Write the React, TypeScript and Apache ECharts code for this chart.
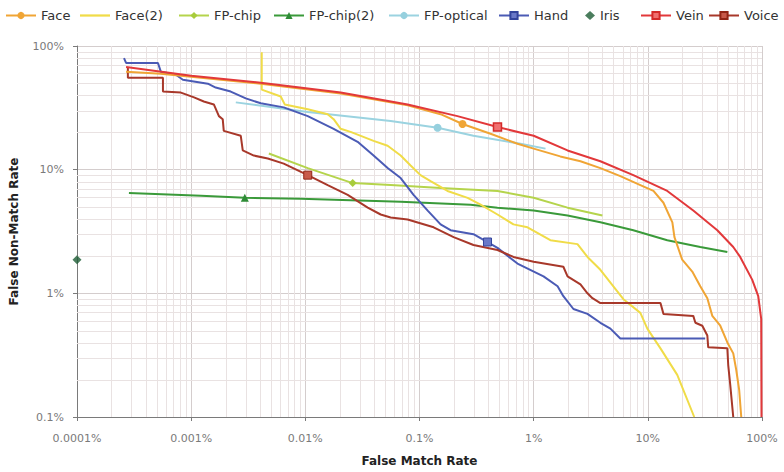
import React, { useEffect, useRef } from 'react';
import * as echarts from 'echarts';

type P = [number, number];

// False Match Rate (%) , False Non-Match Rate (%)
const face: P[] = [
  [0.000269, 61.8], [0.000543, 59.6], [0.00407, 49.6], [0.0204, 41.3], [0.0787, 33.1],
  [0.153, 28.1], [0.238, 23.4], [0.419, 19.5], [0.721, 16.2], [1.0, 14.8], [1.71, 12.8],
  [2.57, 11.7], [3.84, 10.3], [5.74, 8.86], [8.6, 7.51], [11.2, 6.73], [13.7, 5.4],
  [16.4, 3.75], [17.1, 2.85], [20.0, 1.87], [24.5, 1.5], [28.8, 1.14], [33.2, 0.914],
  [36.7, 0.657], [43.1, 0.547], [49.7, 0.401], [56.0, 0.327], [59.5, 0.24], [63.1, 0.166],
  [65.8, 0.1],
];
const faceMarker = 6;

const face2: P[] = [
  [0.00415, 89.1], [0.00415, 44.4], [0.00609, 39.1], [0.0066, 33.7], [0.0105, 30.8],
  [0.0157, 28.1], [0.0177, 25.6], [0.0204, 21.4], [0.0249, 20.2], [0.0396, 17.1],
  [0.0526, 15.6], [0.0684, 13.0], [0.0836, 10.8], [0.102, 9.03], [0.125, 8.08],
  [0.176, 6.73], [0.264, 5.92], [0.343, 5.21], [0.482, 4.34], [0.665, 3.61], [0.883, 3.42],
  [1.4, 2.69], [2.42, 2.5], [2.96, 1.97], [3.84, 1.55], [4.99, 1.14], [6.11, 0.897],
  [8.6, 0.695], [9.9, 0.518], [12.9, 0.359], [18.1, 0.219], [25.5, 0.1],
];

const fpChip: P[] = [
  [0.00479, 13.5], [0.0105, 10.3], [0.026, 7.79], [0.0559, 7.51], [0.153, 7.11],
  [0.482, 6.73], [1.0, 5.92], [1.98, 4.93], [4.0, 4.26],
];
const fpChipMarker = 2;

const fpChip2: P[] = [
  [0.000285, 6.49], [0.00122, 6.14], [0.00295, 5.92], [0.00912, 5.81], [0.0684, 5.5],
  [0.28, 5.21], [0.482, 4.93], [1.0, 4.67], [1.98, 4.26], [3.84, 3.75], [7.46, 3.24],
  [14.8, 2.69], [28.8, 2.37], [49.7, 2.16],
];
const fpChip2Marker = 2;

const fpOptical: P[] = [
  [0.00246, 35.0], [0.0105, 29.2], [0.0559, 24.7], [0.144, 21.8], [0.297, 18.8],
  [0.767, 16.2], [1.27, 14.8],
];
const fpOpticalMarker = 3;

const hand: P[] = [
  [0.000258, 79.8], [0.000269, 72.9], [0.000512, 72.9], [0.000543, 61.8], [0.000735, 58.5],
  [0.000846, 53.4], [0.0014, 49.6], [0.00164, 46.1], [0.00222, 42.8], [0.00301, 37.7],
  [0.00407, 34.4], [0.00647, 31.9], [0.0105, 27.1], [0.0177, 21.4], [0.0287, 16.8],
  [0.0396, 13.0], [0.0526, 10.3], [0.0684, 8.55], [0.0887, 6.26], [0.118, 4.67],
  [0.153, 3.61], [0.187, 3.24], [0.297, 3.01], [0.394, 2.6], [0.482, 2.33], [0.721, 1.74],
  [1.22, 1.37], [1.62, 1.14], [1.82, 0.948], [2.23, 0.747], [2.96, 0.682], [3.84, 0.578],
  [4.7, 0.518], [5.74, 0.431], [31.8, 0.431],
];
const handMarker = 23;

const iris: P[] = [[0.0001, 1.87]];

const vein: P[] = [
  [0.000269, 67.7], [0.001, 57.4], [0.00407, 50.5], [0.0204, 42.0], [0.0787, 33.7],
  [0.215, 27.1], [0.482, 22.1], [1.0, 18.8], [1.98, 14.3], [3.84, 11.7], [7.46, 9.03],
  [14.8, 6.73], [25.0, 4.67], [40.6, 3.24], [56.0, 2.37], [64.4, 1.97], [82.0, 1.29],
  [92.7, 0.948], [98.4, 0.622], [99.0, 0.1],
];
const veinMarker = 6;

const voice: P[] = [
  [0.000279, 66.5], [0.000279, 55.3], [0.000566, 55.3], [0.000566, 42.8], [0.000813, 42.0],
  [0.00106, 38.4], [0.00129, 35.6], [0.00158, 33.7], [0.00175, 27.1], [0.00189, 25.6],
  [0.00193, 20.6], [0.00272, 18.8], [0.00283, 14.3], [0.00354, 13.0], [0.00469, 12.3],
  [0.00647, 11.2], [0.0105, 9.03], [0.0157, 7.51], [0.0235, 6.26], [0.0352, 4.93],
  [0.0457, 4.34], [0.0559, 4.11], [0.0787, 3.96], [0.133, 3.42], [0.199, 2.85],
  [0.297, 2.46], [0.482, 2.24], [0.665, 1.97], [1.0, 1.8], [1.82, 1.64], [1.98, 1.37],
  [2.57, 1.18], [2.96, 1.0], [3.27, 0.914], [3.84, 0.834], [12.9, 0.834], [13.7, 0.682],
  [25.0, 0.657], [26.1, 0.578], [30.0, 0.547], [33.2, 0.456], [33.8, 0.366], [49.7, 0.359],
  [50.6, 0.263], [52.7, 0.182], [56.0, 0.1],
];
const voiceMarker = 16;

const xMin = 0.0001;
const xMax = 100;
const yMin = 0.1;
const yMax = 100;

const FONT = 'DejaVu Sans';

function pct(v: number): string {
  return `${+Number(v).toPrecision(6)}%`;
}

function minorValues(lo: number, hi: number): number[] {
  const out: number[] = [];
  for (let e = Math.round(Math.log10(lo)); e < Math.round(Math.log10(hi)); e++) {
    for (let m = 2; m <= 9; m++) out.push(+(m * Math.pow(10, e)).toPrecision(4));
  }
  return out;
}

export default function App() {
  const ref = useRef<HTMLDivElement>(null);

  useEffect(() => {
    if (!ref.current) return;
    const chart = echarts.init(ref.current, undefined, { renderer: 'svg' });

    const lineSeries = (
      name: string,
      data: P[],
      color: string,
      symbol: string,
      markerIdx: number,
      itemStyle: any,
      z = 3
    ) => ({
      type: 'line',
      name,
      data,
      symbol,
      showSymbol: true,
      symbolSize: (_v: any, p: any) => (p.dataIndex === markerIdx ? 8 : 0),
      lineStyle: { color, width: 2 },
      itemStyle,
      z,
      silent: true,
      clip: true,
    });

    const gridData: number[][] = [
      ...minorValues(xMin, xMax).map((v) => [v, 1, 0]),
      ...minorValues(yMin, yMax).map((v) => [0.01, v, 1]),
    ];

    const legendText = { fontFamily: FONT, fontSize: 13, color: '#333' };
    const legendDefs: { left: number; w?: number; item: any }[] = [
      { left: 5, item: { name: 'Face' } },
      { left: 80, item: { name: 'Face(2)', icon: 'path://M0,0H40V3H0Z', itemStyle: { color: '#F0DC48' } } },
      { left: 178, item: { name: 'FP-chip' } },
      { left: 273, item: { name: 'FP-chip(2)' } },
      { left: 388, item: { name: 'FP-optical' } },
      { left: 498, item: { name: 'Hand' } },
      { left: 585, w: 10, item: { name: 'Iris' } },
      { left: 640, item: { name: 'Vein' } },
      { left: 708, item: { name: 'Voice' } },
    ];

    const axisCommon = {
      type: 'log',
      logBase: 10,
      nameLocation: 'middle',
      nameTextStyle: { fontFamily: FONT, fontSize: 12, fontWeight: 'bold', color: '#222' },
      axisLine: { show: true, onZero: false, lineStyle: { color: '#7a7a7a', width: 1 } },
      axisTick: { show: true, inside: false, length: 4, lineStyle: { color: '#7a7a7a' } },
      splitLine: { show: true, lineStyle: { color: '#d4cdcd', width: 1 } },
      minorTick: { show: false },
      minorSplitLine: { show: false },
    };

    chart.setOption({
      animation: false,
      backgroundColor: '#ffffff',
      grid: { left: 76, right: 22, top: 46, bottom: 49, containLabel: false },
      legend: legendDefs.map((d) => ({
        left: d.left,
        top: 9,
        padding: 0,
        itemWidth: d.w ?? 30,
        itemHeight: 9,
        selectedMode: false,
        data: [d.item],
        textStyle: legendText,
      })),
      xAxis: {
        ...axisCommon,
        min: xMin,
        max: xMax,
        name: 'False Match Rate',
        nameGap: 38,
        axisLabel: { formatter: pct, color: '#7a7a7a', fontFamily: FONT, fontSize: 11, margin: 16 },
      },
      yAxis: {
        ...axisCommon,
        min: yMin,
        max: yMax,
        name: 'False Non-Match Rate',
        nameGap: 57,
        axisLabel: { formatter: pct, color: '#7a7a7a', fontFamily: FONT, fontSize: 11, margin: 13 },
      },
      series: [
        {
          type: 'custom',
          name: 'minor-grid',
          z: 1,
          silent: true,
          clip: true,
          data: gridData,
          encode: { x: 0, y: 1 },
          renderItem: (params: any, api: any) => {
            const cs = params.coordSys;
            const kind = api.value(2);
            const p = api.coord([api.value(0), api.value(1)]);
            const style = { stroke: '#e9e2e2', lineWidth: 1 };
            if (kind === 0) {
              const x = Math.round(p[0]) + 0.5;
              return { type: 'line', shape: { x1: x, y1: cs.y, x2: x, y2: cs.y + cs.height }, style };
            }
            const y = Math.round(p[1]) + 0.5;
            return { type: 'line', shape: { x1: cs.x, y1: y, x2: cs.x + cs.width, y2: y }, style };
          },
        },
        lineSeries('FP-chip(2)', fpChip2, '#3A9A3A', 'triangle', fpChip2Marker, { color: '#2E8B36' }),
        lineSeries('FP-chip', fpChip, '#B5D44C', 'diamond', fpChipMarker, { color: '#A8CC3C' }),
        lineSeries('FP-optical', fpOptical, '#9BD3E0', 'circle', fpOpticalMarker, { color: '#96D0DE' }),
        lineSeries('Face(2)', face2, '#F0DC48', 'none', -1, { color: '#F0DC48' }),
        lineSeries('Hand', hand, '#4B5BB5', 'rect', handMarker, { color: '#6a78c8', borderColor: '#34449c', borderWidth: 1 }),
        lineSeries('Voice', voice, '#A8382A', 'rect', voiceMarker, { color: '#c85a4a', borderColor: '#922616', borderWidth: 1 }),
        lineSeries('Face', face, '#F0A535', 'circle', faceMarker, { color: '#F0A535' }),
        lineSeries('Vein', vein, '#E2383A', 'rect', veinMarker, { color: '#f07070', borderColor: '#d42a2a', borderWidth: 1.5 }),
        {
          type: 'scatter',
          name: 'Iris',
          data: iris,
          symbol: 'diamond',
          symbolSize: 9,
          itemStyle: { color: '#1d5c34' },
          z: 5,
          clip: false,
          silent: true,
        },
      ],
    });

    return () => chart.dispose();
  }, []);

  return (
    <div
      ref={ref}
      style={{ position: 'fixed', left: 0, top: 0, width: 784, height: 472, background: '#fff' }}
    />
  );
}
